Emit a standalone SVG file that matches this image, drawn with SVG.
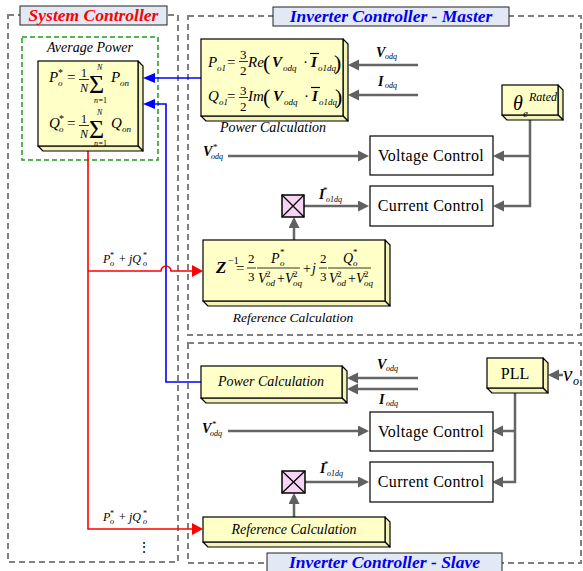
<svg xmlns="http://www.w3.org/2000/svg" width="583" height="571" viewBox="0 0 583 571">
<defs>
<marker id="ag" markerUnits="userSpaceOnUse" markerWidth="12" markerHeight="12" refX="8" refY="5.5" orient="auto"><path d="M0,0 L11,5.5 L0,11 z" fill="#606060"/></marker>
<marker id="ar" markerUnits="userSpaceOnUse" markerWidth="12" markerHeight="12" refX="8" refY="6" orient="auto"><path d="M0,0 L11,6 L0,12 z" fill="#ff0000"/></marker>
<marker id="ab" markerUnits="userSpaceOnUse" markerWidth="13" markerHeight="11" refX="9" refY="5" orient="auto"><path d="M0,0 L12,5 L0,10 z" fill="#0000ff"/></marker>
</defs>
<style>
.dash{fill:none;stroke:#808080;stroke-width:2;stroke-dasharray:6 4}
.gdash{fill:none;stroke:#1f9a1f;stroke-width:1.5;stroke-dasharray:5 3}
.title{fill:#e3e9f4;stroke:#222;stroke-width:1}
.tt{font-family:"Liberation Serif",serif;font-weight:bold;font-style:italic;font-size:17.5px;text-anchor:middle}
.face{fill:#ffffc8;stroke:#000;stroke-width:1.2}
.side{fill:#f4f4b8;stroke:#000;stroke-width:1.2;stroke-linejoin:round}
.box{fill:#fff;stroke:#000;stroke-width:1.2}
.mul{fill:#f8d4f4;stroke:#000;stroke-width:1.5}
.g{fill:none;stroke:#666;stroke-width:2.5}
.r{fill:none;stroke:#ff0000;stroke-width:1.6}
.bl{fill:none;stroke:#0000ff;stroke-width:1.6}
text{font-family:"Liberation Serif",serif;fill:#000}
.i{font-style:italic}
.b{font-weight:bold;font-style:italic}
.lab{font-style:italic;font-size:14px;text-anchor:middle}
.ctl{font-size:16px;text-anchor:middle;letter-spacing:0.3px}
.m{font-size:15px}
.s{font-size:9px;font-style:italic;font-weight:normal}
.s8{font-size:8px;font-style:italic;font-weight:normal}
.fl{stroke:#000;stroke-width:0.8}
</style>

<g id="frames">
<rect class="dash" x="8" y="15" width="170" height="547"/>
<rect class="dash" x="188" y="16" width="393" height="319"/>
<rect class="dash" x="188" y="343" width="393" height="220"/>
<rect class="gdash" x="22" y="37" width="136" height="123"/>
<text class="i" x="90" y="52" font-size="14" text-anchor="middle">Average Power</text>
</g>

<g id="title-system">
<rect class="title" x="20" y="6" width="147" height="19"/>
<text class="tt" x="93.5" y="21" style="fill:#ff0000">System Controller</text>
</g>
<g id="title-master">
<rect class="title" x="273" y="7" width="236" height="19"/>
<text class="tt" x="391" y="22" style="fill:#0000ee">Inverter Controller - Master</text>
</g>
<g id="title-slave">
<rect class="title" x="267" y="553" width="235" height="24"/>
<text class="tt" x="384.5" y="568" style="fill:#0000ee">Inverter Controller - Slave</text>
</g>

<g id="connectors">
<path class="bl" d="M201,78 H146" marker-end="url(#ab)"/>
<path class="bl" d="M201,382 H166 V104 H146" marker-end="url(#ab)"/>
<path class="r" d="M88,151 V529 H200" marker-end="url(#ar)"/>
<path class="r" d="M88,271 H161 A5,5 0 0 1 171,271 H200" marker-end="url(#ar)"/>
<path class="g" d="M418,65 H351" marker-end="url(#ag)"/>
<path class="g" d="M418,95 H351" marker-end="url(#ag)"/>
<path class="g" d="M530,120 V206 H496" marker-end="url(#ag)"/>
<path class="g" d="M530,156 H496" marker-end="url(#ag)"/>
<path class="g" d="M228,156 H366" marker-end="url(#ag)"/>
<path class="g" d="M304,206 H366" marker-end="url(#ag)"/>
<path class="g" d="M294,240 V220" marker-end="url(#ag)"/>
<path class="g" d="M418,378 H350" marker-end="url(#ag)"/>
<path class="g" d="M418,389 H350" marker-end="url(#ag)"/>
<path class="g" d="M563,375 H551" marker-end="url(#ag)"/>
<path class="g" d="M515,393 V482 H495" marker-end="url(#ag)"/>
<path class="g" d="M515,431 H495" marker-end="url(#ag)"/>
<path class="g" d="M228,431 H366" marker-end="url(#ag)"/>
<path class="g" d="M305,482 H366" marker-end="url(#ag)"/>
<path class="g" d="M294,517 V496" marker-end="url(#ag)"/>
</g>

<g id="labels">
<text font-size="12"><tspan class="i" x="103" y="263">P</tspan><tspan font-size="8" x="110" y="258">*</tspan><tspan class="s8" x="110" y="266">o</tspan><tspan x="119" y="263">+</tspan><tspan class="i" x="129" y="263">jQ</tspan><tspan font-size="8" x="143" y="258">*</tspan><tspan class="s8" x="143" y="266">o</tspan></text>
<text font-size="12"><tspan class="i" x="103" y="521">P</tspan><tspan font-size="8" x="110" y="516">*</tspan><tspan class="s8" x="110" y="524">o</tspan><tspan x="119" y="521">+</tspan><tspan class="i" x="129" y="521">jQ</tspan><tspan font-size="8" x="143" y="516">*</tspan><tspan class="s8" x="143" y="524">o</tspan></text>
<text x="137" y="552" font-size="14">⋮</text>

<text font-size="14"><tspan class="b" x="376" y="57">V</tspan><tspan class="s8" x="385" y="59">odq</tspan></text>
<text font-size="14"><tspan class="b" x="378" y="86">I</tspan><tspan class="s8" x="385" y="88">odq</tspan></text>
<text font-size="14"><tspan class="b" x="203" y="156">V</tspan><tspan font-size="9" x="213" y="150">*</tspan><tspan class="s8" x="211" y="159">odq</tspan></text>
<text font-size="14"><tspan class="b" x="319" y="199">I</tspan><tspan font-size="9" x="323" y="193">*</tspan><tspan class="s8" x="326" y="202">o1dq</tspan></text>

<text font-size="14"><tspan class="b" x="377" y="369">V</tspan><tspan class="s8" x="386" y="371">odq</tspan></text>
<text font-size="14"><tspan class="b" x="379" y="404">I</tspan><tspan class="s8" x="386" y="406">odq</tspan></text>
<text font-size="14"><tspan class="b" x="202" y="433">V</tspan><tspan font-size="9" x="212" y="427">*</tspan><tspan class="s8" x="210" y="436">odq</tspan></text>
<text font-size="14"><tspan class="b" x="320" y="473">I</tspan><tspan font-size="9" x="324" y="467">*</tspan><tspan class="s8" x="327" y="476">o1dq</tspan></text>
<text class="i"><tspan x="563" y="381" font-size="21">v</tspan><tspan x="573" y="385" font-size="12">o</tspan></text>
</g>

<g id="avg-power">
<polygon class="side" points="138,61 143,66 143,151 138,146"/>
<polygon class="side" points="38,146 138,146 143,151 43,151"/>
<rect class="face" x="38" y="61" width="100" height="85"/>
<line class="fl" x1="79" y1="79.5" x2="89" y2="79.5"/>
<line class="fl" x1="79" y1="125.5" x2="89" y2="125.5"/>
<text class="m"><tspan class="i" x="49" y="82">P</tspan><tspan font-size="10" x="58" y="76">*</tspan><tspan class="s" x="58" y="86">o</tspan><tspan x="67" y="82">=</tspan><tspan font-size="12" x="81" y="77">1</tspan><tspan font-size="12" class="i" x="80" y="92">N</tspan><tspan font-size="26" x="89" y="93">Σ</tspan><tspan class="s8" x="97" y="70">N</tspan><tspan class="s8" x="94" y="103">n</tspan><tspan font-size="8" x="98.5" y="103">=1</tspan><tspan class="i" x="111" y="82">P</tspan><tspan class="s" x="120" y="86">on</tspan></text>
<text class="m"><tspan class="i" x="49" y="128">Q</tspan><tspan font-size="10" x="59" y="122">*</tspan><tspan class="s" x="59" y="132">o</tspan><tspan x="67" y="128">=</tspan><tspan font-size="12" x="81" y="123">1</tspan><tspan font-size="12" class="i" x="80" y="138">N</tspan><tspan font-size="26" x="89" y="138">Σ</tspan><tspan class="s8" x="97" y="115">N</tspan><tspan class="s8" x="94" y="146">n</tspan><tspan font-size="8" x="98.5" y="146">=1</tspan><tspan class="i" x="111" y="128">Q</tspan><tspan class="s" x="122" y="132">on</tspan></text>
</g>

<g id="m-power-calc">
<polygon class="side" points="343,39 348,44 348,121 343,116"/>
<polygon class="side" points="201,116 343,116 348,121 206,121"/>
<rect class="face" x="201" y="39" width="142" height="77"/>
<line class="fl" x1="239" y1="61.5" x2="248" y2="61.5"/>
<line class="fl" x1="239" y1="97.5" x2="248" y2="97.5"/>
<line x1="310" y1="53.5" x2="319" y2="53.5" stroke="#000" stroke-width="1.2"/>
<line x1="311" y1="87.5" x2="320" y2="87.5" stroke="#000" stroke-width="1.2"/>
<text class="m"><tspan class="i" x="208" y="67">P</tspan><tspan class="s" x="217" y="71">o1</tspan><tspan x="227" y="67">=</tspan><tspan font-size="13" x="240" y="59">3</tspan><tspan font-size="13" x="240" y="75">2</tspan><tspan class="i" x="248" y="67">Re</tspan><tspan font-size="22" x="263" y="70">(</tspan><tspan class="b" x="272" y="67">V</tspan><tspan class="s" x="283" y="71">odq</tspan><tspan x="303" y="67">·</tspan><tspan class="b" x="311" y="67">I</tspan><tspan class="s" x="318" y="71">o1dq</tspan><tspan font-size="22" x="334" y="70">)</tspan></text>
<text class="m"><tspan class="i" x="208" y="101">Q</tspan><tspan class="s" x="219" y="105">o1</tspan><tspan x="227" y="101">=</tspan><tspan font-size="13" x="240" y="95">3</tspan><tspan font-size="13" x="240" y="111">2</tspan><tspan class="i" x="248" y="101">Im</tspan><tspan font-size="22" x="263" y="104">(</tspan><tspan class="b" x="273" y="101">V</tspan><tspan class="s" x="284" y="105">odq</tspan><tspan x="304" y="101">·</tspan><tspan class="b" x="312" y="101">I</tspan><tspan class="s" x="319" y="105">o1dq</tspan><tspan font-size="22" x="335" y="104">)</tspan></text>
<text x="273" y="132" class="lab">Power Calculation</text>
</g>

<g id="theta">
<polygon class="side" points="558,85 563,90 563,120 558,115"/>
<polygon class="side" points="502,115 558,115 563,120 507,120"/>
<rect class="face" x="502" y="85" width="56" height="30"/>
<text class="i"><tspan x="513" y="110" font-size="20">θ</tspan><tspan x="523" y="117" font-size="11">e</tspan><tspan x="529" y="101" font-size="12">Rated</tspan></text>
</g>

<g id="m-voltage-control">
<rect class="box" x="370" y="136" width="123" height="39"/>
<text x="431" y="161" class="ctl">Voltage Control</text>
</g>
<g id="m-current-control">
<rect class="box" x="370" y="186" width="123" height="40"/>
<text x="431" y="211" class="ctl">Current Control</text>
</g>

<g id="m-mult">
<rect class="mul" x="282" y="195" width="22" height="22"/>
<path d="M282,195 L304,217 M304,195 L282,217" stroke="#000" stroke-width="1.3"/>
</g>

<g id="m-ref-calc">
<polygon class="side" points="385,240 390,245 390,306 385,301"/>
<polygon class="side" points="203,301 385,301 390,306 208,306"/>
<rect class="face" x="203" y="240" width="182" height="61"/>
<line class="fl" x1="247" y1="268" x2="256" y2="268"/>
<line class="fl" x1="257" y1="268" x2="300" y2="268"/>
<line class="fl" x1="319" y1="268" x2="327" y2="268"/>
<line class="fl" x1="328" y1="268" x2="371" y2="268"/>
<text font-size="14"><tspan class="b" font-size="17" x="216" y="273">Z</tspan><tspan font-size="10" x="228" y="264">−1</tspan><tspan font-size="15" x="236" y="273">=</tspan><tspan font-size="13" x="248" y="263">2</tspan><tspan font-size="13" x="248" y="281">3</tspan><tspan class="i" x="271" y="263">P</tspan><tspan font-size="9" x="280" y="255">*</tspan><tspan class="s" x="280" y="266">o</tspan><tspan class="i" x="258" y="283">V</tspan><tspan font-size="9" x="266" y="277">2</tspan><tspan class="s" x="266" y="286">od</tspan><tspan x="277" y="283">+</tspan><tspan class="i" x="285" y="283">V</tspan><tspan font-size="9" x="293" y="277">2</tspan><tspan class="s" x="293" y="286">oq</tspan><tspan x="303" y="273">+</tspan><tspan class="i" x="312" y="273">j</tspan><tspan font-size="13" x="320" y="263">2</tspan><tspan font-size="13" x="320" y="281">3</tspan><tspan class="i" x="343" y="263">Q</tspan><tspan font-size="9" x="353" y="255">*</tspan><tspan class="s" x="353" y="266">o</tspan><tspan class="i" x="329" y="283">V</tspan><tspan font-size="9" x="337" y="277">2</tspan><tspan class="s" x="337" y="286">od</tspan><tspan x="348" y="283">+</tspan><tspan class="i" x="356" y="283">V</tspan><tspan font-size="9" x="364" y="277">2</tspan><tspan class="s" x="364" y="286">oq</tspan></text>
<text x="293" y="322" class="lab" style="font-size:13.5px">Reference Calculation</text>
</g>

<g id="s-power-calc">
<polygon class="side" points="342,366 347,371 347,403 342,398"/>
<polygon class="side" points="201,398 342,398 347,403 206,403"/>
<rect class="face" x="201" y="366" width="141" height="32"/>
<text x="271" y="386" class="lab">Power Calculation</text>
</g>

<g id="pll">
<polygon class="side" points="543,358 548,363 548,393 543,388"/>
<polygon class="side" points="487,388 543,388 548,393 492,393"/>
<rect class="face" x="487" y="358" width="56" height="30"/>
<text x="515" y="379" font-size="16" text-anchor="middle">PLL</text>
</g>

<g id="s-voltage-control">
<rect class="box" x="370" y="412" width="123" height="39"/>
<text x="431" y="437" class="ctl">Voltage Control</text>
</g>
<g id="s-current-control">
<rect class="box" x="370" y="462" width="123" height="40"/>
<text x="431" y="487" class="ctl">Current Control</text>
</g>

<g id="s-mult">
<rect class="mul" x="282" y="471" width="23" height="22"/>
<path d="M282,471 L305,493 M305,471 L282,493" stroke="#000" stroke-width="1.3"/>
</g>

<g id="s-ref-calc">
<polygon class="side" points="385,517 390,522 390,547 385,542"/>
<polygon class="side" points="203,542 385,542 390,547 208,547"/>
<rect class="face" x="203" y="517" width="182" height="25"/>
<text x="294" y="534" class="lab">Reference Calculation</text>
</g>
</svg>
